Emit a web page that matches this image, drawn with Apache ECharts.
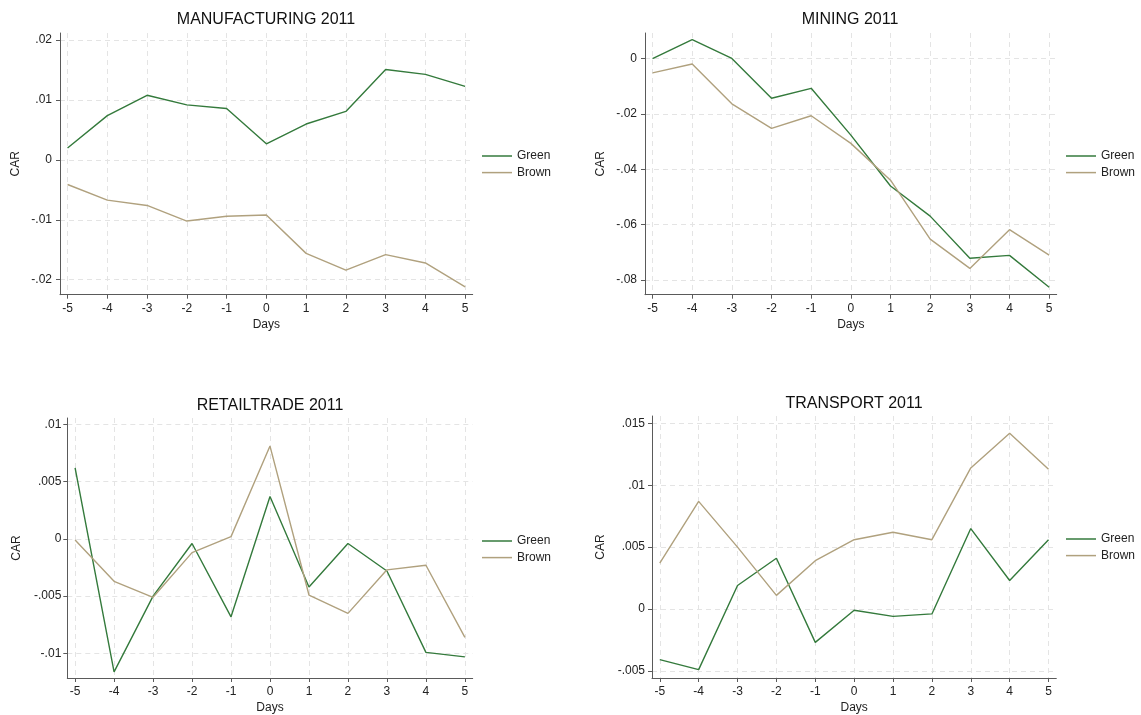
<!DOCTYPE html>
<html>
<head>
<meta charset="utf-8">
<script src="https://cdn.jsdelivr.net/npm/echarts@6/dist/echarts.min.js"></script>
<style>
  html, body { margin: 0; padding: 0; background: #fff; }
  #chart { width: 1141px; height: 715px; }
</style>
</head>
<body>
<div id="chart"></div>
<script>
// event window days
const days = [-5, -4, -3, -2, -1, 0, 1, 2, 3, 4, 5]

// CAR values
const mfgGreen = [0.0020, 0.0074, 0.0108, 0.0092, 0.0086, 0.0027, 0.0060, 0.0081, 0.0151, 0.0143, 0.0123]
const mfgBrown = [-0.0041, -0.0067, -0.0076, -0.0102, -0.0094, -0.0092, -0.0156, -0.0184, -0.0158, -0.0172, -0.0212]
const minGreen = [0.0000, 0.0069, 0.0001, -0.0143, -0.0107, -0.0276, -0.0460, -0.0569, -0.0721, -0.0711, -0.0826]
const minBrown = [-0.0051, -0.0019, -0.0163, -0.0252, -0.0206, -0.0306, -0.0439, -0.0652, -0.0758, -0.0618, -0.0710]
const retGreen = [0.0062, -0.0116, -0.0050, -0.0004, -0.0068, 0.0037, -0.0042, -0.0004, -0.0028, -0.0099, -0.0103]
const retBrown = [-0.0001, -0.0037, -0.0051, -0.0012, 0.0002, 0.0081, -0.0049, -0.0065, -0.0027, -0.0023, -0.0086]
const trnGreen = [-0.0041, -0.0049, 0.0019, 0.0041, -0.0027, -0.0001, -0.0006, -0.0004, 0.0065, 0.0023, 0.0056]
const trnBrown = [0.0037, 0.0087, 0.0050, 0.0011, 0.0039, 0.0056, 0.0062, 0.0056, 0.0114, 0.0142, 0.0113]

// y tick values per panel
const mfgTicks = [-0.02, -0.01, 0, 0.01, 0.02]
const minTicks = [-0.08, -0.06, -0.04, -0.02, 0]
const retTicks = [-0.01, -0.005, 0, 0.005, 0.01]
const trnTicks = [-0.005, 0, 0.005, 0.01, 0.015]

const titles = ['MANUFACTURING 2011', 'MINING 2011', 'RETAILTRADE 2011', 'TRANSPORT 2011']
const seriesNames = ['Green', 'Brown']

const GREEN = '#347a3c'
const BROWN = '#b0a17e'
const FONT = 'Liberation Sans, Arial, sans-serif'

// layout of the four panels (pixels)
const panels = [
  { title: titles[0], green: mfgGreen, brown: mfgBrown, ticks: mfgTicks,
    left: 60, right: 472.7, top: 33, bottom: 294.7, xMin: -5.19, xMax: 5.19, yMin: -0.0225, yMax: 0.0212,
    titleX: 266, titleY: 12, nameGap: 38, labelMargin: 8, legendX: 482, legendY: 149 },
  { title: titles[1], green: minGreen, brown: minBrown, ticks: minTicks,
    left: 645, right: 1056.7, top: 33, bottom: 294.7, xMin: -5.19, xMax: 5.19, yMin: -0.0853, yMax: 0.0093,
    titleX: 850, titleY: 12, nameGap: 38, labelMargin: 8, legendX: 1066, legendY: 149 },
  { title: titles[2], green: retGreen, brown: retBrown, ticks: retTicks,
    left: 67.3, right: 472.7, top: 418, bottom: 679.3, xMin: -5.2, xMax: 5.2, yMin: -0.01214, yMax: 0.01055,
    titleX: 270, titleY: 398, nameGap: 45, labelMargin: 6, legendX: 482, legendY: 534 },
  { title: titles[3], green: trnGreen, brown: trnBrown, ticks: trnTicks,
    left: 652, right: 1056.3, top: 416, bottom: 679.3, xMin: -5.2, xMax: 5.2, yMin: -0.00558, yMax: 0.0156,
    titleX: 854, titleY: 396, nameGap: 45, labelMargin: 7, legendX: 1066, legendY: 532 },
]

function fmtTick(v) {
  if (v === 0) return '0'
  const s = String(Number(v.toFixed(4)))
  return s.replace('0.', '.')
}

const gridLine = { show: true, lineStyle: { color: '#e4e4e4', type: [5, 4], width: 1 } }
const axisLineStyle = { show: true, onZero: false, lineStyle: { color: '#5a5a5a', width: 1 } }

const option = {
  backgroundColor: '#fff',
  animation: false,
  textStyle: { fontFamily: FONT },
  title: panels.map(p => ({
    text: p.title,
    left: p.titleX,
    top: p.titleY,
    textAlign: 'center',
    padding: 0,
    textStyle: { fontFamily: FONT, fontSize: 16, fontWeight: 'normal', color: '#111' },
  })),
  legend: panels.map(p => ({
    data: seriesNames,
    orient: 'vertical',
    left: p.legendX,
    top: p.legendY,
    padding: 0,
    icon: 'rect',
    itemWidth: 30,
    itemHeight: 1.5,
    itemGap: 2.6,
    selectedMode: false,
    textStyle: { fontFamily: FONT, fontSize: 12, color: '#222', lineHeight: 14 },
  })),
  grid: panels.map(p => ({
    left: p.left,
    top: p.top,
    width: p.right - p.left,
    height: p.bottom - p.top,
    containLabel: false,
  })),
  xAxis: panels.map((p, i) => ({
    type: 'value',
    gridIndex: i,
    min: p.xMin,
    max: p.xMax,
    name: 'Days',
    nameLocation: 'middle',
    nameGap: 24,
    nameTextStyle: { fontFamily: FONT, fontSize: 12, color: '#222' },
    axisLine: axisLineStyle,
    axisTick: { show: true, length: 4, customValues: days, lineStyle: { color: '#5a5a5a' } },
    axisLabel: { customValues: days, margin: 8, fontSize: 12, color: '#222', fontFamily: FONT },
    splitLine: gridLine,
  })),
  yAxis: panels.map((p, i) => ({
    type: 'value',
    gridIndex: i,
    min: p.yMin,
    max: p.yMax,
    name: 'CAR',
    nameLocation: 'middle',
    nameGap: p.nameGap,
    nameRotate: 90,
    nameTextStyle: { fontFamily: FONT, fontSize: 12, color: '#222' },
    axisLine: axisLineStyle,
    axisTick: { show: true, length: 4, customValues: p.ticks, lineStyle: { color: '#5a5a5a' } },
    axisLabel: { customValues: p.ticks, margin: p.labelMargin, fontSize: 12, color: '#222', fontFamily: FONT, formatter: fmtTick },
    splitLine: gridLine,
  })),
  series: panels.flatMap((p, i) => [
    {
      name: 'Green', type: 'line', xAxisIndex: i, yAxisIndex: i,
      data: days.map((d, k) => [d, p.green[k]]),
      showSymbol: false, color: GREEN,
      lineStyle: { color: GREEN, width: 1.4 },
    },
    {
      name: 'Brown', type: 'line', xAxisIndex: i, yAxisIndex: i,
      data: days.map((d, k) => [d, p.brown[k]]),
      showSymbol: false, color: BROWN,
      lineStyle: { color: BROWN, width: 1.4 },
    },
  ]),
}

const chart = echarts.init(document.getElementById('chart'), null, { renderer: 'canvas' })
chart.setOption(option)
</script>
</body>
</html>
